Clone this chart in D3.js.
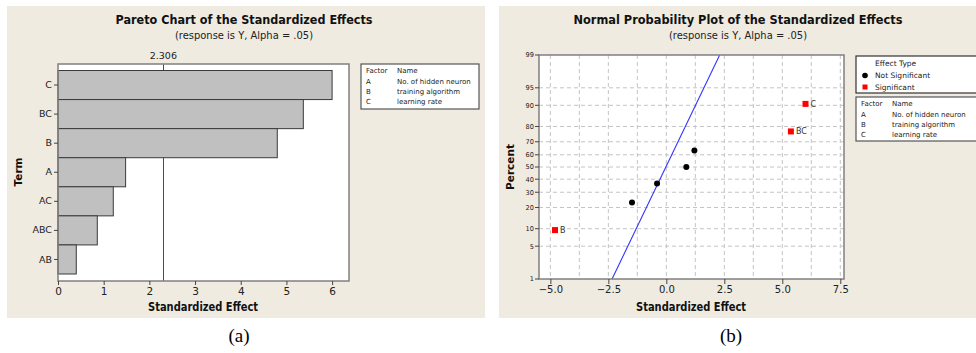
<!DOCTYPE html>
<html>
<head>
<meta charset="utf-8">
<script src="https://cdn.jsdelivr.net/npm/d3@7"></script>
<style>
  body { margin: 0; background: #fff; }
  svg { display: block; font-family: "DejaVu Sans", Verdana, sans-serif; }
</style>
</head>
<body>
<svg id="chart" width="976" height="353"></svg>
<script>
// ---- data ----
const terms = ["C", "BC", "B", "A", "AC", "ABC", "AB"];
const paretoEffects = [6.00, 5.37, 4.80, 1.48, 1.21, 0.86, 0.40];
const paretoTicks = [0, 1, 2, 3, 4, 5, 6];
const critValue = 2.306;

const factorCodes = ["A", "B", "C"];
const factorNames = ["No. of hidden neuron", "training algorithm", "learning rate"];

const effectLabels = ["B", "A", "AB", "ABC", "AC", "BC", "C"];
const effectValues = [-4.80, -1.48, -0.40, 0.86, 1.21, 5.37, 6.00];
const effectPercent = [9.5, 23, 36.5, 50, 63.5, 77, 90.5];
const effectSignificant = [true, false, false, false, false, true, true];
const fitLineEffect = [-2.34, 2.30];
const fitLinePercent = [1, 99];
const probTicks = [1, 5, 10, 20, 30, 40, 50, 60, 70, 80, 90, 95, 99];
const effectTicks = [-5.0, -2.5, 0.0, 2.5, 5.0, 7.5];
const effectGrid = [-5, -3.75, -2.5, -1.25, 0, 1.25, 2.5, 3.75, 5, 6.25, 7.5];

const bg = "#efebe1";
const frameCol = "#808080";

// inverse normal CDF (Acklam)
function probit(p) {
  const a = [-39.69683028665376, 220.9460984245205, -275.9285104469687, 138.3577518672690, -30.66479806614716, 2.506628277459239];
  const b = [-54.47609879822406, 161.5858368580409, -155.6989798598866, 66.80131188771972, -13.28068155288572];
  const c = [-0.007784894002430293, -0.3223964580411365, -2.400758277161838, -2.549732539343734, 4.374664141464968, 2.938163982698783];
  const d = [0.007784695709041462, 0.3224671290700398, 2.445134137142996, 3.754408661907416];
  const pl = 0.02425;
  let q, r;
  if (p < pl) {
    q = Math.sqrt(-2 * Math.log(p));
    return (((((c[0]*q+c[1])*q+c[2])*q+c[3])*q+c[4])*q+c[5]) / ((((d[0]*q+d[1])*q+d[2])*q+d[3])*q+1);
  } else if (p <= 1 - pl) {
    q = p - 0.5; r = q*q;
    return (((((a[0]*r+a[1])*r+a[2])*r+a[3])*r+a[4])*r+a[5])*q / (((((b[0]*r+b[1])*r+b[2])*r+b[3])*r+b[4])*r+1);
  } else {
    q = Math.sqrt(-2 * Math.log(1 - p));
    return -(((((c[0]*q+c[1])*q+c[2])*q+c[3])*q+c[4])*q+c[5]) / ((((d[0]*q+d[1])*q+d[2])*q+d[3])*q+1);
  }
}

const svg = d3.select("#chart");

function fitText(sel, w) {
  sel.attr("textLength", w).attr("lengthAdjust", "spacingAndGlyphs");
}

// ================= Panel (a): Pareto =================
svg.append("rect").attr("x", 7).attr("y", 6).attr("width", 478).attr("height", 312).attr("fill", bg);

const pa = { left: 58, right: 349, top: 64, bottom: 281 };

svg.append("text").attr("x", 244).attr("y", 24).attr("text-anchor", "middle")
  .attr("font-size", 12.5).attr("font-weight", "bold").attr("fill", "#111")
  .text("Pareto Chart of the Standardized Effects").call(fitText, 257);
svg.append("text").attr("x", 244).attr("y", 39).attr("text-anchor", "middle")
  .attr("font-size", 10).attr("fill", "#222")
  .text("(response is Y, Alpha = .05)").call(fitText, 138);

const xa = d3.scaleLinear().domain([0, 6.37]).range([pa.left, pa.right]);
const ya = d3.scaleBand().domain(terms).range([70.5, 274]).padding(0);

svg.append("rect").attr("x", pa.left).attr("y", pa.top)
  .attr("width", pa.right - pa.left).attr("height", pa.bottom - pa.top)
  .attr("fill", "#fff");

// reference line sits behind the bars
svg.append("line").attr("x1", xa(critValue)).attr("x2", xa(critValue))
  .attr("y1", pa.top).attr("y2", pa.bottom).attr("stroke", "#ff0000").attr("stroke-width", 1)
  .attr("shape-rendering", "crispEdges");
svg.append("text").attr("x", xa(critValue)).attr("y", 59).attr("text-anchor", "middle")
  .attr("font-size", 9.5).attr("fill", "#222").text(critValue.toFixed(3));

svg.append("g").selectAll("rect").data(terms).join("rect")
  .attr("x", xa(0))
  .attr("y", d => ya(d))
  .attr("width", (d, i) => xa(paretoEffects[i]) - xa(0))
  .attr("height", ya.bandwidth())
  .attr("fill", "#c0c0c0")
  .attr("stroke", "#3a3a3a")
  .attr("stroke-width", 1);

svg.append("rect").attr("x", pa.left).attr("y", pa.top)
  .attr("width", pa.right - pa.left).attr("height", pa.bottom - pa.top)
  .attr("fill", "none").attr("stroke", frameCol).attr("stroke-width", 1.5);

const axA = svg.append("g").attr("transform", `translate(0,${pa.bottom})`)
  .call(d3.axisBottom(xa).tickValues(paretoTicks).tickFormat(d3.format("d")).tickSize(4).tickPadding(3));
const ayA = svg.append("g").attr("transform", `translate(${pa.left},0)`)
  .call(d3.axisLeft(ya).tickSize(4).tickPadding(2));
[axA, ayA].forEach(g => {
  g.select(".domain").remove();
  g.selectAll("line").attr("stroke", "#444");
  g.selectAll("text").attr("font-family", "DejaVu Sans, Verdana, sans-serif").attr("fill", "#222");
});
axA.selectAll("text").attr("font-size", 10.5);
ayA.selectAll("text").attr("font-size", 9.5);

svg.append("text").attr("transform", "translate(22,172) rotate(-90)").attr("text-anchor", "middle")
  .attr("font-size", 10.5).attr("font-weight", "bold").attr("fill", "#111").text("Term");
svg.append("text").attr("x", 203).attr("y", 311).attr("text-anchor", "middle")
  .attr("font-size", 11.5).attr("font-weight", "bold").attr("fill", "#111")
  .text("Standardized Effect").call(fitText, 110);

// factor legend
function factorLegend(x, y, w, h) {
  const g = svg.append("g").attr("transform", `translate(${x},${y})`);
  g.append("rect").attr("width", w).attr("height", h).attr("fill", "#fff")
    .attr("stroke", "#555").attr("stroke-width", 1.2);
  const rowY = [9, 19.5, 29.5, 40];
  g.append("text").attr("x", 5).attr("y", rowY[0]).attr("font-size", 7).attr("fill", "#222").text("Factor");
  g.append("text").attr("x", 36).attr("y", rowY[0]).attr("font-size", 7).attr("fill", "#222").text("Name");
  factorCodes.forEach((c, i) => {
    g.append("text").attr("x", 5).attr("y", rowY[i + 1]).attr("font-size", 7).attr("fill", "#222").text(c);
    g.append("text").attr("x", 36).attr("y", rowY[i + 1]).attr("font-size", 7).attr("fill", "#222").text(factorNames[i]);
  });
}
factorLegend(361, 64, 118, 45);

// ================= Panel (b): Normal probability plot =================
svg.append("rect").attr("x", 499).attr("y", 6).attr("width", 477).attr("height", 312).attr("fill", bg);

const pb = { left: 539, right: 844, top: 55, bottom: 279 };

svg.append("text").attr("x", 738).attr("y", 24).attr("text-anchor", "middle")
  .attr("font-size", 12.5).attr("font-weight", "bold").attr("fill", "#111")
  .text("Normal Probability Plot of the Standardized Effects").call(fitText, 329);
svg.append("text").attr("x", 738).attr("y", 39).attr("text-anchor", "middle")
  .attr("font-size", 10).attr("fill", "#222")
  .text("(response is Y, Alpha = .05)").call(fitText, 138);

const xb = d3.scaleLinear().domain([-5.49, 7.66]).range([pb.left, pb.right]);
const zScale = d3.scaleLinear().domain([probit(0.01), probit(0.99)]).range([pb.bottom, pb.top]);
const yb = p => zScale(probit(p / 100));

svg.append("rect").attr("x", pb.left).attr("y", pb.top)
  .attr("width", pb.right - pb.left).attr("height", pb.bottom - pb.top).attr("fill", "#fff");

const grid = svg.append("g").attr("stroke", "#c4c4c4").attr("stroke-width", 1).attr("stroke-dasharray", "4,3");
grid.selectAll("line.v").data(effectGrid).join("line").attr("class", "v")
  .attr("x1", d => xb(d)).attr("x2", d => xb(d)).attr("y1", pb.top).attr("y2", pb.bottom);
grid.selectAll("line.h").data(probTicks.slice(1, -1)).join("line").attr("class", "h")
  .attr("x1", pb.left).attr("x2", pb.right).attr("y1", d => yb(d)).attr("y2", d => yb(d));

// fitted line, clipped to plot
svg.append("clipPath").attr("id", "clipb").append("rect")
  .attr("x", pb.left).attr("y", pb.top).attr("width", pb.right - pb.left).attr("height", pb.bottom - pb.top);
svg.append("line").attr("clip-path", "url(#clipb)")
  .attr("x1", xb(fitLineEffect[0])).attr("y1", yb(fitLinePercent[0]))
  .attr("x2", xb(fitLineEffect[1])).attr("y2", yb(fitLinePercent[1]))
  .attr("stroke", "#3333ff").attr("stroke-width", 1.1);

const pts = effectValues.map((v, i) => ({ v, p: effectPercent[i], s: effectSignificant[i], l: effectLabels[i] }));
svg.append("g").selectAll("circle").data(pts.filter(d => !d.s)).join("circle")
  .attr("cx", d => xb(d.v)).attr("cy", d => yb(d.p)).attr("r", 3).attr("fill", "#000");
const sig = pts.filter(d => d.s);
svg.append("g").selectAll("rect").data(sig).join("rect")
  .attr("x", d => xb(d.v) - 3).attr("y", d => yb(d.p) - 3).attr("width", 6).attr("height", 6).attr("fill", "#ff0000");
svg.append("g").selectAll("text").data(sig).join("text")
  .attr("x", d => xb(d.v) + 5).attr("y", d => yb(d.p) + 3)
  .attr("font-size", 8).attr("fill", "#333").text(d => d.l);

svg.append("rect").attr("x", pb.left).attr("y", pb.top)
  .attr("width", pb.right - pb.left).attr("height", pb.bottom - pb.top)
  .attr("fill", "none").attr("stroke", frameCol).attr("stroke-width", 1.5);

const axB = svg.append("g").attr("transform", `translate(0,${pb.bottom})`)
  .call(d3.axisBottom(xb).tickValues(effectTicks).tickFormat(d3.format(".1f")).tickSize(5).tickPadding(2));
axB.select(".domain").remove();
axB.selectAll("line").attr("stroke", "#444");
axB.selectAll("text").attr("font-family", "DejaVu Sans, Verdana, sans-serif").attr("font-size", 10).attr("fill", "#222");

const ayB = svg.append("g").attr("transform", `translate(${pb.left},0)`);
const yt = ayB.selectAll("g.pt").data(probTicks).join("g").attr("class", "pt")
  .attr("transform", d => `translate(0,${yb(d)})`);
yt.append("line").attr("x1", -4).attr("x2", 0).attr("stroke", "#444");
yt.append("text").attr("x", -5).attr("dy", "0.35em").attr("text-anchor", "end")
  .attr("font-size", 6.6).attr("fill", "#222").text(d => d);

svg.append("text").attr("transform", "translate(514,167) rotate(-90)").attr("text-anchor", "middle")
  .attr("font-size", 10.5).attr("font-weight", "bold").attr("fill", "#111").text("Percent");
svg.append("text").attr("x", 691).attr("y", 311).attr("text-anchor", "middle")
  .attr("font-size", 11.5).attr("font-weight", "bold").attr("fill", "#111")
  .text("Standardized Effect").call(fitText, 110);

// effect type legend
const lg = svg.append("g").attr("transform", "translate(856,56)");
lg.append("rect").attr("width", 122).attr("height", 37).attr("fill", "#fff").attr("stroke", "#333").attr("stroke-width", 1.2);
lg.append("text").attr("x", 19).attr("y", 10).attr("font-size", 7.5).attr("fill", "#222").text("Effect Type");
lg.append("circle").attr("cx", 9).attr("cy", 19.5).attr("r", 2.8).attr("fill", "#000");
lg.append("text").attr("x", 19).attr("y", 22).attr("font-size", 7.5).attr("fill", "#222").text("Not Significant");
lg.append("rect").attr("x", 6.5).attr("y", 28.5).attr("width", 5).attr("height", 5).attr("fill", "#ff0000");
lg.append("text").attr("x", 19).attr("y", 34).attr("font-size", 7.5).attr("fill", "#222").text("Significant");

factorLegend(856, 97, 122, 44);

// captions
svg.append("text").attr("x", 239).attr("y", 342).attr("text-anchor", "middle")
  .attr("font-family", "Liberation Serif, Times New Roman, serif").attr("font-size", 19).attr("fill", "#000").text("(a)");
svg.append("text").attr("x", 731).attr("y", 342).attr("text-anchor", "middle")
  .attr("font-family", "Liberation Serif, Times New Roman, serif").attr("font-size", 19).attr("fill", "#000").text("(b)");
</script>
</body>
</html>
